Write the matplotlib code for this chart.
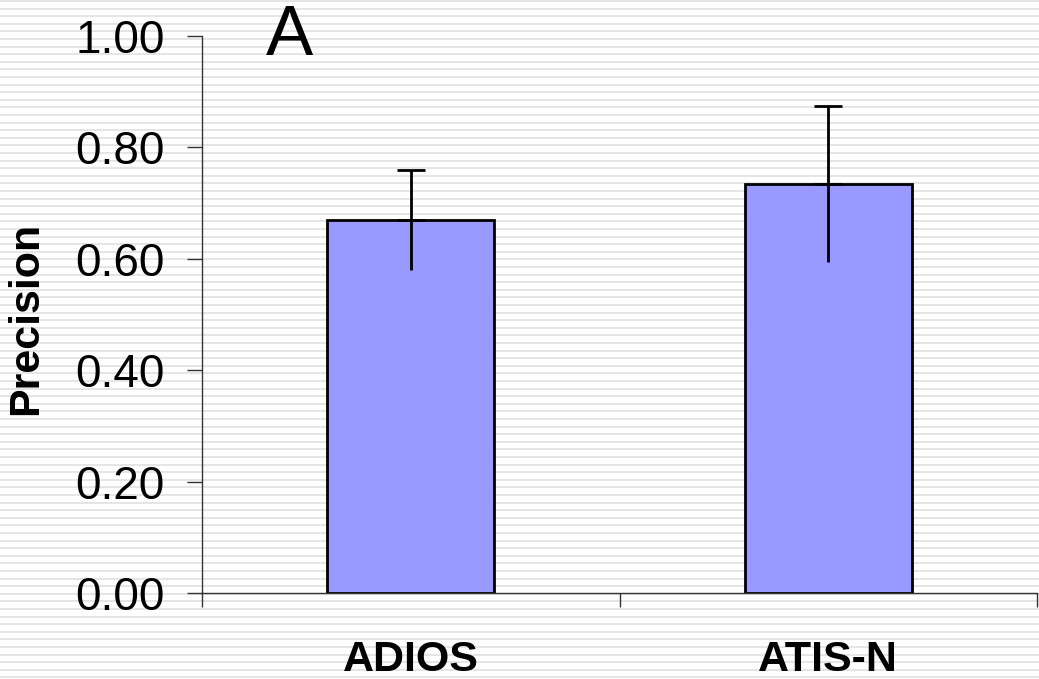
import numpy as np
import matplotlib
matplotlib.use("Agg")
import matplotlib.pyplot as plt

plt.rcParams['font.family'] = ['Liberation Sans', 'DejaVu Sans']

methods = ['ADIOS', 'ATIS-N']
precision = [0.67, 0.735]
prec_err = [0.09, 0.14]
yticks = [0.0, 0.2, 0.4, 0.6, 0.8, 1.0]

W, H = 1039, 679
fig = plt.figure(figsize=(W / 100, H / 100), dpi=100, facecolor='white')

# striped backdrop behind everything
bg = fig.add_axes([0, 0, 1, 1], zorder=0)
bg.set_xlim(0, W)
bg.set_ylim(H, 0)
bg.axis('off')
for yy in np.arange(1.0, H, 7.6):
    bg.axhline(yy, color='#e3e3e3', lw=1.3)

ax = fig.add_axes([202 / W, 1 - 593 / H, (1037 - 202) / W, (593 - 36) / H], zorder=1)
ax.set_facecolor('none')

x = np.arange(len(methods))
ax.bar(x, precision, width=0.4, color='#9999ff', edgecolor='black', linewidth=2, zorder=2)
# lower whisker without cap, upper whisker with cap
ax.errorbar(x, precision, yerr=[prec_err, [0] * len(x)], fmt='none', ecolor='black',
            elinewidth=2, capsize=0, zorder=3)
ax.errorbar(x, precision, yerr=[[0] * len(x), prec_err], fmt='none', ecolor='black',
            elinewidth=2, capsize=10, capthick=2, zorder=3)

ax.set_xlim(-0.5, 1.5)
ax.set_ylim(0, 1.0)
ax.set_yticks(yticks)
ax.set_yticklabels([f'{v:.2f}' for v in yticks], fontsize=33)
ax.tick_params(axis='y', length=11, width=1, color='#333333', pad=16)

ax.set_xticks([-0.5, 0.5, 1.5])
ax.set_xticklabels([])
ax.tick_params(axis='x', which='major', length=10, width=1, color='#333333')
ax.set_xticks(x, minor=True)
ax.set_xticklabels(methods, minor=True, fontsize=31, fontweight='bold')
ax.tick_params(axis='x', which='minor', length=0, pad=34)

for s in ['top', 'right']:
    ax.spines[s].set_visible(False)
for s in ['left', 'bottom']:
    ax.spines[s].set_color('#333333')
    ax.spines[s].set_linewidth(1)

fig.text(26 / W, 1 - 318 / H, 'Precision', rotation=90, fontsize=31, fontweight='bold',
         ha='center', va='center')
fig.text(266 / W, 1 - 55 / H, 'A', fontsize=51, ha='left', va='baseline')

fig.savefig('out.png', dpi=100, facecolor='white')
